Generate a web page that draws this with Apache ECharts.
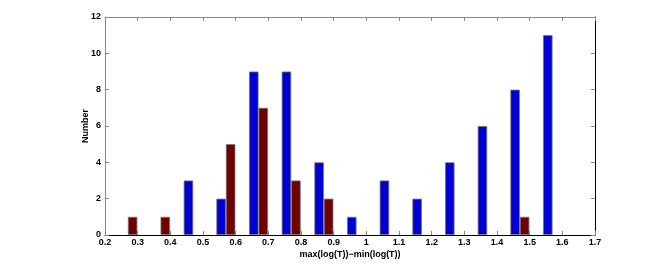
<!DOCTYPE html>
<html><head><meta charset="utf-8">
<script src="https://cdn.jsdelivr.net/npm/echarts@6/dist/echarts.min.js"></script>
<style>html,body{margin:0;padding:0;background:#fff}#c{width:654px;height:277px}</style>
</head><body><div id="c"></div>
<script>
const binCenters = [0.27,0.37,0.47,0.57,0.67,0.77,0.87,0.97,1.07,1.17,1.27,1.37,1.47,1.57];
const blueCounts = [0,0,3,2,9,9,4,1,3,2,4,6,8,11];
const redCounts  = [1,1,0,5,7,3,2,0,0,0,0,0,1,0];
const xName = 'max(log(T))\u2212min(log(T))';
const yName = 'Number';

const font = {fontFamily:'Liberation Sans', fontWeight:'bold', fontSize:9, color:'#000'};
const chart = echarts.init(document.getElementById('c'));
const pairs = arr => binCenters.map((c,i)=>[c, arr[i] === 0 ? '-' : arr[i]]);
chart.setOption({
  animation:false,
  grid:{left:105,right:59,top:17,bottom:42},
  xAxis:[{
    type:'value', min:0.2, max:1.7, interval:0.1,
    name:xName, nameLocation:'middle', nameGap:15, nameMoveOverlap:false,
    nameTextStyle:Object.assign({},font),
    axisLine:{show:true,onZero:false,lineStyle:{color:'#000',width:1}},
    axisTick:{show:true,inside:true,length:4,lineStyle:{color:'#888'}},
    axisLabel:Object.assign({margin:3,formatter:v=>String(+v.toFixed(1))},font),
    splitLine:{show:false}
  },{
    type:'value', position:'top', min:0.2, max:1.7, interval:0.1,
    axisLine:{show:true,onZero:false,lineStyle:{color:'#888',width:1}},
    axisTick:{show:true,inside:true,length:4,lineStyle:{color:'#888'}},
    axisLabel:{show:false}, splitLine:{show:false}
  }],
  yAxis:[{
    type:'value', min:0, max:12, interval:2,
    name:yName, nameLocation:'middle', nameGap:15, nameRotate:90, nameMoveOverlap:false,
    nameTextStyle:Object.assign({},font),
    axisLine:{show:true,lineStyle:{color:'#888',width:1}},
    axisTick:{show:true,inside:true,length:4,lineStyle:{color:'#888'}},
    axisLabel:Object.assign({margin:4},font),
    splitLine:{show:false}
  },{
    type:'value', position:'right', min:0, max:12, interval:2,
    axisLine:{show:true,lineStyle:{color:'#000',width:1}},
    axisTick:{show:true,inside:true,length:4,lineStyle:{color:'#888'}},
    axisLabel:{show:false}, splitLine:{show:false}
  }],
  series:[
    {type:'bar', data:pairs(blueCounts), barWidth:9.5, barGap:'0%',
     itemStyle:{color:'#0000d2', borderColor:'#777', borderWidth:0.8}},
    {type:'bar', data:pairs(redCounts), barWidth:9.5, barGap:'0%',
     itemStyle:{color:'#700000', borderColor:'#777', borderWidth:0.8}}
  ]
});
</script></body></html>
